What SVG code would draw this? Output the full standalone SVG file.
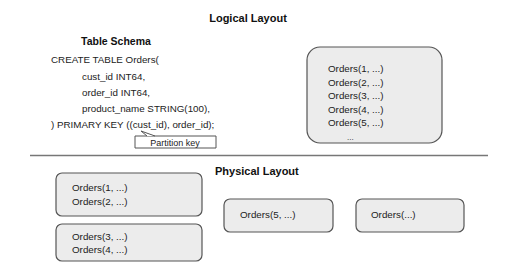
<svg xmlns="http://www.w3.org/2000/svg" width="512" height="271" viewBox="0 0 512 271">
<style>
text{font-family:"Liberation Sans",Arial,sans-serif;font-size:9.8px;fill:#222}
.h{font-weight:bold;font-size:11px;fill:#111}
.box{fill:#ececec;stroke:#555;stroke-width:1.2}
</style>
<rect width="512" height="271" fill="#fff"/>
<text class="h" x="248" y="22" text-anchor="middle">Logical Layout</text>
<g id="schema">
<text class="h" x="81" y="45" style="font-size:10.5px">Table Schema</text>
<text x="51" y="63">CREATE TABLE Orders(</text>
<text x="82" y="80">cust_id  INT64,</text>
<text x="82" y="96">order_id INT64,</text>
<text x="82" y="112">product_name STRING(100),</text>
<text x="51" y="128">) PRIMARY KEY ((cust_id), order_id);</text>
</g>
<g id="partition-key">
<path d="M135,136 H216 V148 H135 Z" fill="#fff" stroke="#555" stroke-width="1"/>
<path d="M147,136 L141,131 L155,136" fill="#fff" stroke="#555" stroke-width="1"/>
<text x="175" y="145.5" text-anchor="middle" style="font-size:9px">Partition key</text>
</g>
<g id="logical-box">
<rect class="box" x="307" y="47" width="135" height="96" rx="13"/>
<text x="328" y="72">Orders(1, ...)</text>
<text x="328" y="85.5">Orders(2, ...)</text>
<text x="328" y="99">Orders(3, ...)</text>
<text x="328" y="112.5">Orders(4, ...)</text>
<text x="328" y="126">Orders(5, ...)</text>
<text x="347" y="140" style="font-size:8px">...</text>
</g>
<line x1="30" y1="155.5" x2="488" y2="155.5" stroke="#777" stroke-width="1.3"/>
<text class="h" x="215" y="175">Physical Layout</text>
<g id="split1">
<rect class="box" x="56" y="173" width="146" height="43" rx="6"/>
<text x="72" y="191">Orders(1, ...)</text>
<text x="72" y="205">Orders(2, ...)</text>
</g>
<g id="split2">
<rect class="box" x="56" y="224" width="146" height="37" rx="6"/>
<text x="72" y="240">Orders(3, ...)</text>
<text x="72" y="253">Orders(4, ...)</text>
</g>
<g id="split3">
<rect class="box" x="224" y="199" width="109" height="33" rx="6"/>
<text x="240" y="218">Orders(5, ...)</text>
</g>
<g id="split4">
<rect class="box" x="356" y="199" width="108" height="33" rx="6"/>
<text x="371" y="218">Orders(...)</text>
</g>
</svg>
